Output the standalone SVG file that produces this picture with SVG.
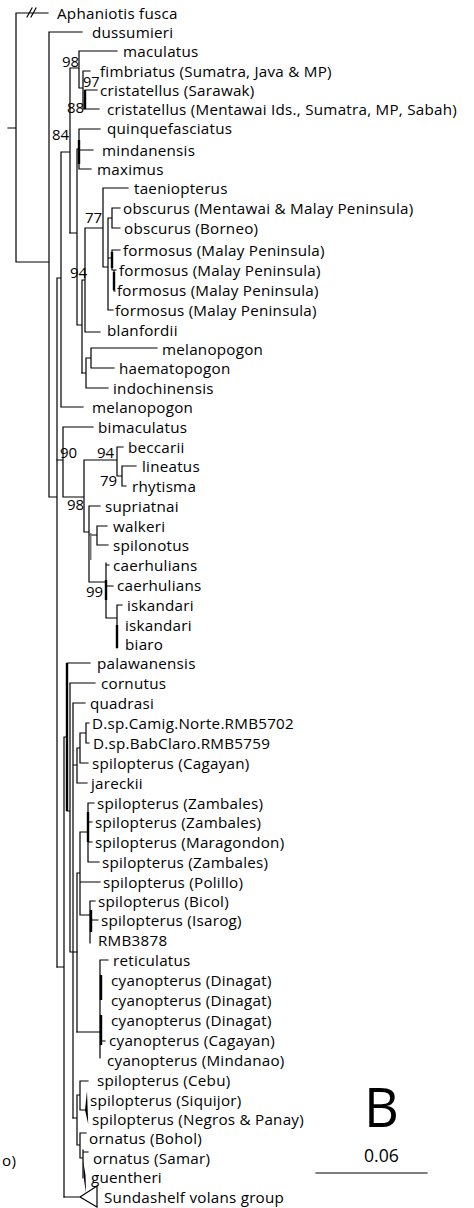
<svg xmlns="http://www.w3.org/2000/svg" width="474" height="1208" viewBox="0 0 474 1208">
<style>
.br{stroke:#000;stroke-width:1.2;fill:none;stroke-linecap:square}
.tk{stroke:#000;stroke-width:2.4;fill:none}
.gr{stroke:#777;stroke-width:2;fill:none}
.wg{fill:#000;stroke:none}
text{font-family:"Open Sans","Noto Sans",sans-serif;font-size:15.2px;letter-spacing:0.25px;fill:#000}
.bs text{font-size:15px;letter-spacing:0}
</style>
<rect width="474" height="1208" fill="#fff"/>
<g id="connectors">
<path class="br" d="M8,128H16 M16,13V262 M16,13H48 M27,17L32,8 M31,17L36,8 M16,262H49 M49,32V497 M49,32H82 M49,497H57 M57,278V967 M57,278H61 M61,152V407 M61,407H83 M61,152H70 M70,68V233 M70,68H79 M79,51V88 M79,51H117 M79,88H83 M83,71V109 M83,71H90 M85,90H97 M83,109H99"/>
<path class="tk" d="M85,90V109 M79,140V164"/>
<path class="br" d="M70,233H77 M77,149V325 M77,149H79 M79,129V169 M79,129H100 M79,150H93 M79,169H91 M77,325H82 M82,280V373 M82,280H85 M85,228V332 M85,332H100 M85,228H103 M103,188V267 M103,188H128 M103,267H108 M108,218V310 M108,218H112 M112,208V228 M112,208H120 M112,228H120 M108,258H112 M112,250V270 M112,250H120 M112,270H116 M114,270V291 M114,291H115 M108,310H113"/>
<path class="tk" d="M112,252V268 M114,272V290"/>
<path class="br" d="M82,373H86 M86,358V388 M86,358H91 M91,348V368 M91,348H157 M91,368H114 M86,388H108"/>
<path class="br" d="M57,460H63 M63,427V497 M63,427H93 M63,497H84 M84,460V532 M84,460H117 M117,447V476 M117,447H123 M117,476H122 M122,466V486 M122,466H136 M122,486H126 M84,532H89 M89,506V582 M89,506H100 M89,535H97 M97,526V545 M97,526H107 M97,545H108 M89,582H106 M106,563V618 M106,565H109 M106,586H113 M106,618H117 M117,605V648 M117,605H122"/>
<path class="gr" d="M90.5,533V560"/>
<path class="tk" d="M106,580V600 M117,625V648"/>
<path class="br" d="M57,967H64 M64,737V1197 M64,737H67 M67,663H90 M67,811H70 M70,683V952 M70,683H95 M70,952H77 M73,703V1118 M73,703H85 M73,765H77 M77,748V783 M77,748H80 M80,733V763 M80,733H86 M86,723V743 M86,723H89 M86,743H89 M80,763H88 M77,783H87"/>
<path class="tk" d="M67,663V811"/>
<path class="br" d="M77,873V1032 M77,873H80 M80,832V915 M80,832H88 M88,803V862 M88,803H94 M88,822H92 M88,842H92 M88,862H99 M80,882H100 M80,915H90 M90,901V943 M90,901H95 M90,920H98"/>
<path class="tk" d="M88,812V842 M91,910V932"/>
<path class="br" d="M77,1032H100 M100,960V1058 M100,960H108 M100,1041H105"/>
<path class="tk" d="M101,975V1000 M101,1015V1045"/>
<path class="br" d="M73,1118H77 M77,1095V1145 M77,1095H80 M80,1081V1110 M80,1081H88 M80,1110H85 M77,1145H80 M80,1133V1158 M80,1133H86 M80,1158H83 M83,1150V1178 M83,1152H88 M64,1197H80 M80,1197L97,1186V1207Z"/>
<path class="wg" d="M85,1110L87,1091L88.2,1124Z M83,1160L85.5,1175L86,1193L84,1180Z"/>
<path class="br" d="M316,1173H427"/>
</g>
<g id="support" class="bs">
<text x="62" y="67">98</text><text x="83" y="87" style="font-size:14.5px">97</text><text x="67" y="113">88</text><text x="52" y="140">84</text><text x="85" y="223">77</text><text x="70" y="278">94</text><text x="60" y="458">90</text><text x="97" y="458">94</text><text x="100" y="486">79</text><text x="67" y="510">98</text><text x="86" y="597">99</text>
</g>
<g id="n1"><text x="57" y="19">Aphaniotis fusca</text></g>
<g id="n2"><text x="92" y="38">dussumieri</text></g>
<g id="n3"><text x="123" y="57">maculatus</text></g>
<g id="n4"><text x="100" y="77">fimbriatus (Sumatra, Java &amp; MP)</text></g>
<g id="n5"><text x="100" y="96">cristatellus (Sarawak)</text></g>
<g id="n6"><text x="107" y="115">cristatellus (Mentawai Ids., Sumatra, MP, Sabah)</text></g>
<g id="n7"><text x="107" y="134">quinquefasciatus</text></g>
<g id="n8"><text x="102" y="156">mindanensis</text></g>
<g id="n9"><text x="97" y="175">maximus</text></g>
<g id="n10"><text x="134" y="194">taeniopterus</text></g>
<g id="n11"><text x="123" y="214">obscurus (Mentawai &amp; Malay Peninsula)</text></g>
<g id="n12"><text x="124" y="234">obscurus (Borneo)</text></g>
<g id="n13"><text x="123" y="256">formosus (Malay Peninsula)</text></g>
<g id="n14"><text x="119" y="276">formosus (Malay Peninsula)</text></g>
<g id="n15"><text x="117" y="296">formosus (Malay Peninsula)</text></g>
<g id="n16"><text x="115" y="316">formosus (Malay Peninsula)</text></g>
<g id="n17"><text x="107" y="336">blanfordii</text></g>
<g id="n18"><text x="162" y="355">melanopogon</text></g>
<g id="n19"><text x="119" y="374">haematopogon</text></g>
<g id="n20"><text x="113" y="394">indochinensis</text></g>
<g id="n21"><text x="92" y="413">melanopogon</text></g>
<g id="n22"><text x="98" y="433">bimaculatus</text></g>
<g id="n23"><text x="128" y="453">beccarii</text></g>
<g id="n24"><text x="142" y="472">lineatus</text></g>
<g id="n25"><text x="132" y="492">rhytisma</text></g>
<g id="n26"><text x="105" y="512">supriatnai</text></g>
<g id="n27"><text x="113" y="532">walkeri</text></g>
<g id="n28"><text x="113" y="551">spilonotus</text></g>
<g id="n29"><text x="113" y="571">caerhulians</text></g>
<g id="n30"><text x="117" y="591">caerhulians</text></g>
<g id="n31"><text x="127" y="611">iskandari</text></g>
<g id="n32"><text x="125" y="631">iskandari</text></g>
<g id="n33"><text x="125" y="650">biaro</text></g>
<g id="n34"><text x="97" y="669">palawanensis</text></g>
<g id="n35"><text x="101" y="689">cornutus</text></g>
<g id="n36"><text x="90" y="709">quadrasi</text></g>
<g id="n37"><text x="92" y="729">D.sp.Camig.Norte.RMB5702</text></g>
<g id="n38"><text x="93" y="749">D.sp.BabClaro.RMB5759</text></g>
<g id="n39"><text x="92" y="769">spilopterus (Cagayan)</text></g>
<g id="n40"><text x="91" y="789">jareckii</text></g>
<g id="n41"><text x="97" y="809">spilopterus (Zambales)</text></g>
<g id="n42"><text x="95" y="828">spilopterus (Zambales)</text></g>
<g id="n43"><text x="95" y="848">spilopterus (Maragondon)</text></g>
<g id="n44"><text x="102" y="868">spilopterus (Zambales)</text></g>
<g id="n45"><text x="103" y="888">spilopterus (Polillo)</text></g>
<g id="n46"><text x="98" y="907">spilopterus (Bicol)</text></g>
<g id="n47"><text x="101" y="926">spilopterus (Isarog)</text></g>
<g id="n48"><text x="98" y="946">RMB3878</text></g>
<g id="n49"><text x="113" y="966">reticulatus</text></g>
<g id="n50"><text x="111" y="986">cyanopterus (Dinagat)</text></g>
<g id="n51"><text x="111" y="1006">cyanopterus (Dinagat)</text></g>
<g id="n52"><text x="111" y="1026">cyanopterus (Dinagat)</text></g>
<g id="n53"><text x="109" y="1046">cyanopterus (Cagayan)</text></g>
<g id="n54"><text x="107" y="1066">cyanopterus (Mindanao)</text></g>
<g id="n55"><text x="97" y="1086">spilopterus (Cebu)</text></g>
<g id="n56"><text x="90" y="1106">spilopterus (Siquijor)</text></g>
<g id="n57"><text x="92" y="1125">spilopterus (Negros &amp; Panay)</text></g>
<g id="n58"><text x="89" y="1144">ornatus (Bohol)</text></g>
<g id="n59"><text x="93" y="1164">ornatus (Samar)</text></g>
<g id="n60"><text x="91" y="1183">guentheri</text></g>
<g id="n61"><text x="104" y="1203">Sundashelf volans group</text></g>
<g id="extra">
<text x="2" y="1166">o)</text>
<text x="364" y="1127" style="font-size:54px;letter-spacing:0">B</text>
<text x="364" y="1162" style="font-size:17.6px;letter-spacing:0">0.06</text>
</g>
</svg>
